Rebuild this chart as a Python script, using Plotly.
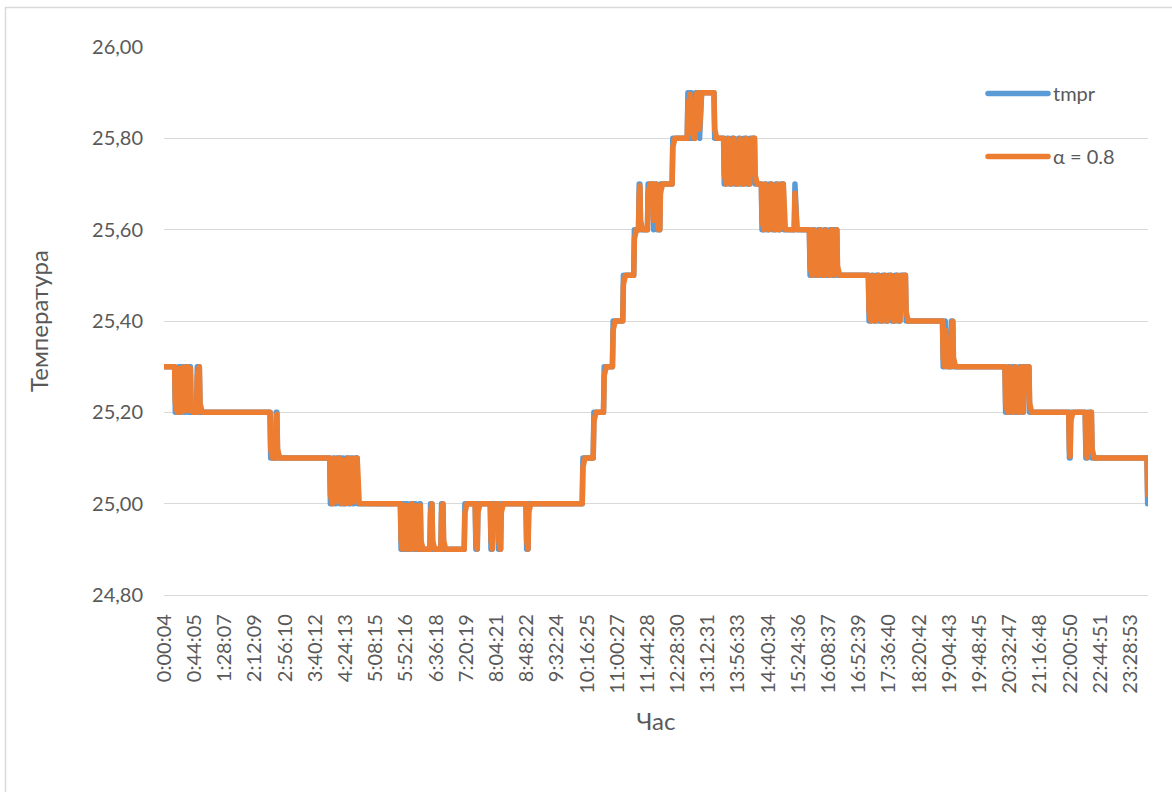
import numpy as np
import plotly.graph_objects as go

# Category tick labels (one every 44 samples, ~1 min sampling)
tick_labels = [
    "0:00:04", "0:44:05", "1:28:07", "2:12:09", "2:56:10", "3:40:12", "4:24:13",
    "5:08:15", "5:52:16", "6:36:18", "7:20:19", "8:04:21", "8:48:22", "9:32:24",
    "10:16:25", "11:00:27", "11:44:28", "12:28:30", "13:12:31", "13:56:33",
    "14:40:34", "15:24:36", "16:08:37", "16:52:39", "17:36:40", "18:20:42",
    "19:04:43", "19:48:45", "20:32:47", "21:16:48", "22:00:50", "22:44:51",
    "23:28:53",
]
tick_step = 44

# Measured temperature, stored as (value, number of consecutive samples)
night_runs = [
    (25.3, 16), (25.2, 5), (25.3, 2), (25.2, 3), (25.3, 3), (25.2, 2), (25.3, 4),
    (25.2, 2), (25.3, 2), (25.2, 9), (25.3, 4), (25.2, 103),
    (25.1, 8), (25.2, 2), (25.1, 77),
    (25.0, 4), (25.1, 3), (25.0, 2), (25.1, 5), (25.0, 3), (25.1, 2), (25.0, 4),
    (25.1, 4), (25.0, 3), (25.1, 3), (25.0, 2), (25.1, 5), (25.0, 63),
    (24.9, 3), (25.0, 2), (24.9, 3), (25.0, 2), (24.9, 4), (25.0, 3), (24.9, 3),
    (25.0, 2), (24.9, 5), (25.0, 2), (24.9, 14), (25.0, 3), (24.9, 13), (25.0, 3),
    (24.9, 31), (25.0, 16), (24.9, 3), (25.0, 19), (24.9, 3), (25.0, 8), (24.9, 4),
    (25.0, 37), (24.9, 3), (25.0, 79),
]
morning_runs = [
    (25.1, 16), (25.2, 15), (25.3, 13), (25.4, 15), (25.5, 16),
    (25.6, 7), (25.7, 2), (25.6, 11),
    (25.7, 8), (25.6, 1), (25.7, 4), (25.6, 5), (25.7, 18),
    (25.8, 22),
    (25.9, 1), (25.8, 1), (25.9, 2), (25.8, 1), (25.9, 1), (25.8, 5),
    (25.9, 6), (25.8, 1), (25.9, 21),
    (25.8, 14),
]
afternoon_runs = [
    (25.7, 4), (25.8, 3), (25.7, 4), (25.8, 4), (25.7, 6), (25.8, 3), (25.7, 5),
    (25.8, 4), (25.7, 5), (25.8, 7),
    (25.7, 10),
    (25.6, 4), (25.7, 3), (25.6, 4), (25.7, 4), (25.6, 5), (25.7, 3),
    (25.6, 4), (25.7, 5),
    (25.6, 16), (25.7, 1), (25.6, 21),
    (25.5, 4), (25.6, 3), (25.5, 5), (25.6, 4), (25.5, 5), (25.6, 3), (25.5, 5),
    (25.6, 4), (25.5, 3), (25.6, 4),
    (25.5, 46),
]
evening_runs = [
    (25.4, 4), (25.5, 3), (25.4, 4), (25.5, 4), (25.4, 5), (25.5, 4),
    (25.4, 4), (25.5, 5), (25.4, 5), (25.5, 4), (25.4, 4), (25.5, 8),
    (25.4, 54),
    (25.3, 3), (25.4, 1), (25.3, 8), (25.4, 3), (25.3, 76),
    (25.2, 4), (25.3, 3), (25.2, 4), (25.3, 4), (25.2, 5), (25.3, 4),
    (25.2, 3), (25.3, 8),
    (25.2, 58), (25.1, 2), (25.2, 22),
    (25.1, 3), (25.2, 6), (25.1, 81), (25.0, 1),
]

alpha = 0.8

runs = night_runs + morning_runs + afternoon_runs + evening_runs
tmpr = np.concatenate([np.full(n, v) for v, n in runs])
n_points = len(tmpr)
idx = np.arange(n_points)

# Exponential smoothing of the measured series
smoothed = np.empty(n_points)
smoothed[0] = tmpr[0]
for i in range(1, n_points):
    smoothed[i] = alpha * tmpr[i] + (1 - alpha) * smoothed[i - 1]

BLUE = "#5B9BD5"
ORANGE = "#ED7D31"
GRID = "#D9D9D9"
TEXT = "#595959"
FONT = "Lato, 'Open Sans', sans-serif"

W, H = 1172, 792
ML, MR, MT, MB = 164, 24, 47, 197
PW, PH = W - ML - MR, H - MT - MB

fig = go.Figure()
fig.add_trace(go.Scatter(
    x=idx, y=tmpr, mode="lines", name="tmpr", legendgroup="a",
    line=dict(color=BLUE, width=5.5),
))
fig.add_trace(go.Scatter(
    x=idx, y=smoothed, mode="lines", name=f"α = {alpha}", legendgroup="b",
    line=dict(color=ORANGE, width=5.5),
))


def px_x(px):
    return (px - ML) / PW


def px_y(py):
    return (H - MB - py) / PH


fig.update_layout(
    width=W, height=H,
    margin=dict(l=ML, r=MR, t=MT, b=MB, autoexpand=False),
    paper_bgcolor="white", plot_bgcolor="white",
    separators=", ",
    font=dict(family=FONT, color=TEXT, size=20),
    showlegend=True,
    legend=dict(
        x=px_x(983), y=px_y(74), xanchor="left", yanchor="top",
        bgcolor="rgba(0,0,0,0)", tracegroupgap=34, itemwidth=60,
        font=dict(family=FONT, size=20, color=TEXT),
    ),
    shapes=[dict(
        type="rect", xref="paper", yref="paper",
        x0=px_x(5.5), x1=px_x(1190), y0=px_y(810), y1=px_y(7.5),
        line=dict(color=GRID, width=1.5), fillcolor="rgba(0,0,0,0)",
        layer="below",
    )],
)

fig.update_xaxes(
    range=[-0.5, n_points - 0.5],
    tickmode="array",
    tickvals=[k * tick_step for k in range(len(tick_labels))],
    ticktext=tick_labels,
    tickangle=-90,
    ticks="",
    showgrid=False, zeroline=False,
    showline=True, linecolor=GRID, linewidth=1.3,
    tickfont=dict(size=20, color=TEXT),
    ticklabelstandoff=10,
    title=dict(text="Час", font=dict(size=24, color=TEXT), standoff=20),
)
fig.update_yaxes(
    range=[24.8, 26.0],
    tick0=24.8, dtick=0.2, tickformat=".2f",
    ticks="",
    showgrid=True, gridcolor=GRID, gridwidth=1.3,
    zeroline=False, showline=False,
    tickfont=dict(size=20, color=TEXT),
    ticklabelstandoff=20,
    title=dict(text="Температура", font=dict(size=24, color=TEXT), standoff=36),
)

# Rounded joins and caps on the series lines
round_lines = """
document.querySelectorAll('.scatterlayer path.js-line, .legendlines path').forEach(function (p) {
    p.style.strokeLinejoin = 'round';
    p.style.strokeLinecap = 'round';
});
"""

fig.write_html("out.html", post_script=round_lines)
